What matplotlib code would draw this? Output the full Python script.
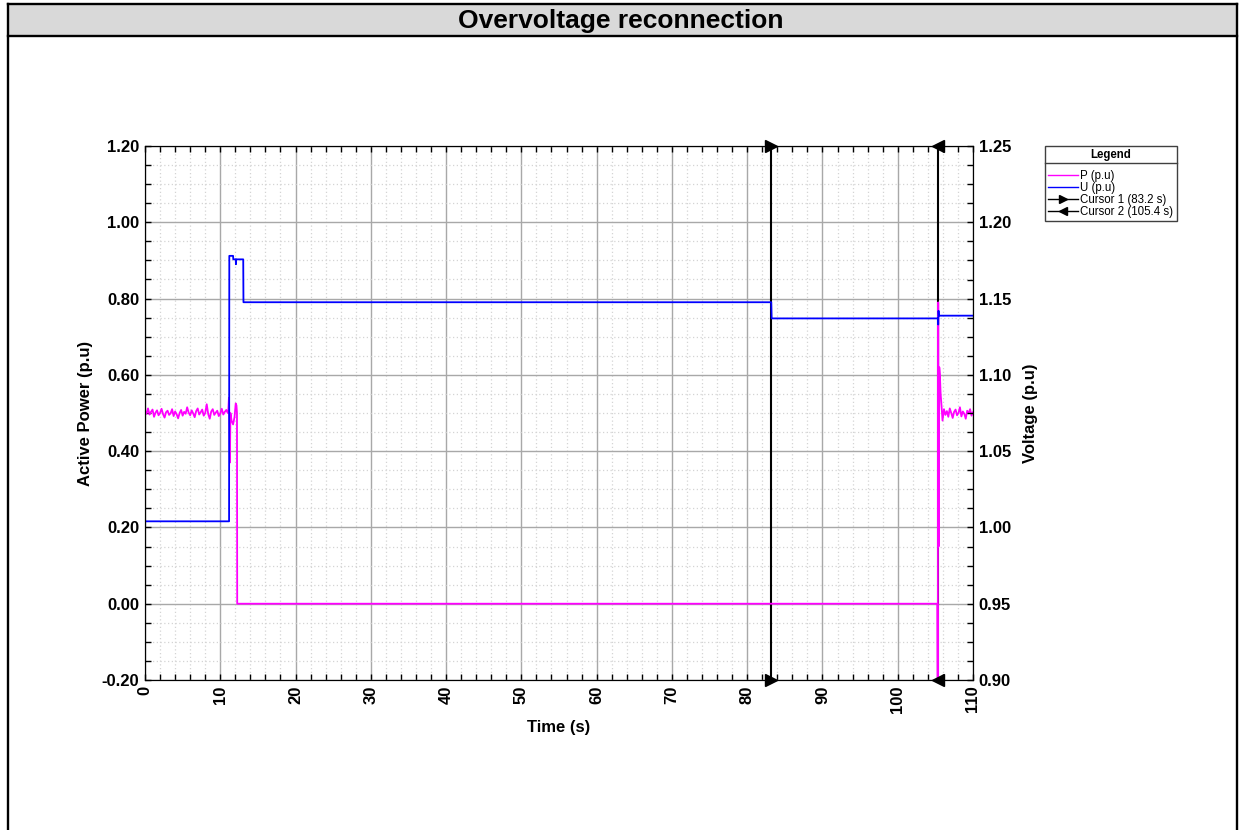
import numpy as np
import matplotlib
matplotlib.use("Agg")
import matplotlib.pyplot as plt
from matplotlib.lines import Line2D
from matplotlib.patches import Rectangle
from matplotlib.ticker import MultipleLocator

plt.rcParams['font.family'] = ['Liberation Sans', 'DejaVu Sans']

# Active power P (p.u) - noisy level before the trip (0 .. 11 s)
p_pre = [0.505, 0.498, 0.512, 0.496, 0.503, 0.509, 0.490, 0.501, 0.507, 0.494,
         0.500, 0.511, 0.497, 0.488, 0.502, 0.506, 0.495, 0.499, 0.510, 0.492,
         0.504, 0.497, 0.486, 0.500, 0.508, 0.493, 0.503, 0.498, 0.515, 0.501,
         0.494, 0.507, 0.499, 0.489, 0.505, 0.512, 0.496, 0.502, 0.509, 0.493,
         0.500, 0.523, 0.497, 0.485, 0.504, 0.510, 0.495, 0.501, 0.506, 0.492,
         0.499, 0.511, 0.496, 0.503, 0.508, 0.500]
p_pre_span = (0.0, 11.0)
# trip, zero output, reconnection
t_p_mid = [11.05, 11.15, 11.22, 11.28, 11.35, 11.5, 11.7, 11.9, 12.05, 12.15, 12.22, 12.25,
           105.25, 105.32, 105.38, 105.43, 105.52, 105.6, 105.7, 105.85]
p_mid = [0.50, 0.54, 0.46, 0.37, 0.50, 0.48, 0.47, 0.49, 0.525, 0.52, 0.50, 0.0,
         0.0, -0.30, 0.79, 0.15, 0.62, 0.60, 0.55, 0.51]
# noisy level after reconnection
p_post = [0.48, 0.51, 0.495, 0.505, 0.49, 0.512, 0.50, 0.487, 0.503, 0.509, 0.494,
          0.50, 0.515, 0.491, 0.504, 0.498, 0.485, 0.506, 0.499, 0.51, 0.493, 0.502]
p_post_span = (105.95, 110.0)

# Voltage U (p.u)
t_u = [0, 11.17, 11.2, 11.7, 11.73, 12.05, 12.08, 12.12, 13.05, 13.08, 83.2, 83.25,
       105.35, 105.38, 105.42, 105.46, 110]
u = [1.004, 1.004, 1.178, 1.178, 1.1757, 1.1757, 1.1725, 1.1757, 1.1757, 1.1476, 1.1476, 1.137,
     1.137, 1.133, 1.142, 1.1388, 1.1388]

cursor1 = 83.2
cursor2 = 105.4

x_ticks = [0, 10, 20, 30, 40, 50, 60, 70, 80, 90, 100, 110]
p_ticks = [-0.20, 0.00, 0.20, 0.40, 0.60, 0.80, 1.00, 1.20]
u_ticks = [0.90, 0.95, 1.00, 1.05, 1.10, 1.15, 1.20, 1.25]

W, H = 1240, 830
fig = plt.figure(figsize=(W / 100, H / 100), dpi=100)

# frame + title band
fig.patches.append(Rectangle((8 / W, 1 - 36 / H), (1237 - 8) / W, 32 / H,
                             transform=fig.transFigure, facecolor='#d9d9d9', edgecolor='none'))
for xs, ys in [([8, 8], [4, 830]), ([1237, 1237], [4, 830]), ([8, 1237], [4, 4]), ([8, 1237], [36, 36])]:
    fig.add_artist(Line2D([x / W for x in xs], [1 - y / H for y in ys], color='black', lw=1.7,
                          transform=fig.transFigure))
fig.text(621 / W, 1 - 21 / H, 'Overvoltage reconnection', ha='center', va='center',
         fontsize=19, fontweight='bold')

ax = fig.add_axes([145 / W, 1 - 680 / H, (973 - 145) / W, (680 - 146) / H])
ax2 = ax.twinx()

t_p = np.concatenate([np.linspace(p_pre_span[0], p_pre_span[1], len(p_pre)), t_p_mid,
                      np.linspace(p_post_span[0], p_post_span[1], len(p_post))])
p = np.concatenate([p_pre, p_mid, p_post])

ax.axvline(cursor1, color='black', lw=1.5, zorder=2)
ax.axvline(cursor2, color='black', lw=1.5, zorder=2)
line_p, = ax.plot(t_p, p, color='#ff00ff', lw=1.3, zorder=3)
line_u, = ax2.plot(t_u, u, color='#0000ff', lw=1.3)
ax2.plot([cursor1, cursor1], [u_ticks[0], u_ticks[-1]], ls='none', marker='>', ms=8,
         color='black', clip_on=False, zorder=5)
ax2.plot([cursor2, cursor2], [u_ticks[0], u_ticks[-1]], ls='none', marker='<', ms=8,
         color='black', clip_on=False, zorder=5)

ax.set_xlim(0, 110)
ax.set_ylim(-0.2, 1.2)
ax2.set_ylim(0.9, 1.25)

ax.set_xticks(x_ticks)
ax.set_xticklabels([str(v) for v in x_ticks], rotation=90, fontsize=12, fontweight='bold')
ax.set_yticks(p_ticks)
ax.set_yticklabels([f"{v:.2f}" for v in p_ticks], fontsize=12, fontweight='bold')
ax2.set_yticks(u_ticks)
ax2.set_yticklabels([f"{v:.2f}" for v in u_ticks], fontsize=12, fontweight='bold')
ax.xaxis.set_minor_locator(MultipleLocator(2))
ax.yaxis.set_minor_locator(MultipleLocator(0.05))
ax2.yaxis.set_minor_locator(MultipleLocator(0.0125))

ax.tick_params(which='both', direction='in', top=True, length=4, width=1, pad=4)
ax2.tick_params(which='both', direction='in', length=4, width=1, pad=4)

ax.set_axisbelow(True)
ax.grid(which='major', color='#a8a8a8', lw=1, ls='-')
ax.grid(which='minor', color='#d4d4d4', lw=0.9, ls=(0, (1, 2)))

ax.set_xlabel('Time (s)', fontsize=12, fontweight='bold', labelpad=5)
ax.set_ylabel('Active Power (p.u)', fontsize=12, fontweight='bold', labelpad=6)
ax2.set_ylabel('Voltage (p.u)', fontsize=12, fontweight='bold', labelpad=9)

# legend
handles = [Line2D([], [], color='#ff00ff', lw=1),
           Line2D([], [], color='#0000ff', lw=1),
           Line2D([], [], color='black', lw=1, marker='>', ms=6),
           Line2D([], [], color='black', lw=1, marker='<', ms=6)]
labels = ['P (p.u)', 'U (p.u)', f'Cursor 1 ({cursor1} s)', f'Cursor 2 ({cursor2} s)']
leg = fig.legend(handles, labels, loc='upper left', bbox_to_anchor=(1045 / W, 1 - 146 / H),
                 title='Legend', title_fontproperties={'weight': 'bold', 'size': 8.3},
                 fontsize=8.3, frameon=True, fancybox=False, edgecolor='#404040', framealpha=1,
                 borderpad=0.3, labelspacing=0.0, handlelength=2.6, handletextpad=0.15,
                 borderaxespad=0, numpoints=1)
leg.get_frame().set_linewidth(1)
leg._legend_box.sep = 6

fig.canvas.draw()
renderer = fig.canvas.get_renderer()
tb = leg.get_title().get_window_extent(renderer)
fb = leg.get_frame().get_window_extent(renderer)
ysep = (tb.y0 - 2) / H
fig.add_artist(Line2D([fb.x0 / W, fb.x1 / W], [ysep, ysep], color='#404040', lw=1,
                      transform=fig.transFigure, zorder=10))

fig.savefig('out.png', dpi=100)
